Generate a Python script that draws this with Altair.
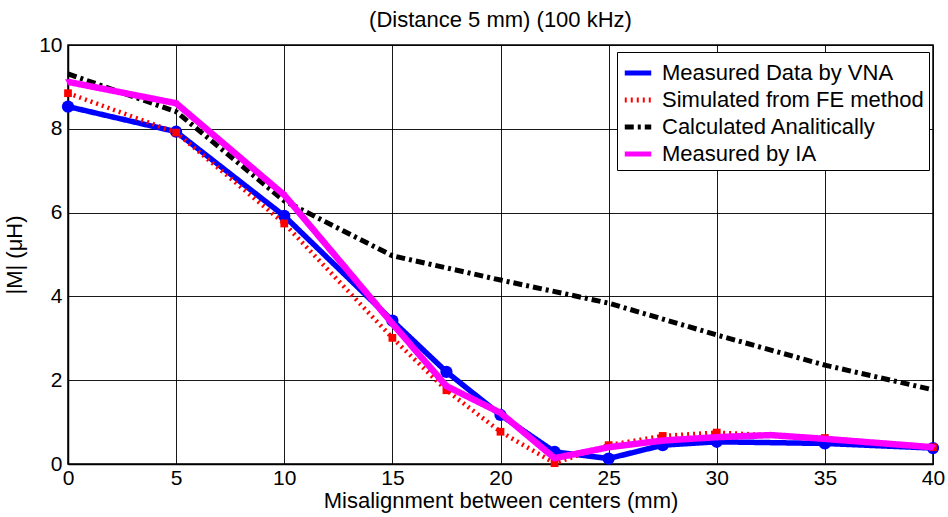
import altair as alt
import pandas as pd

# ---- data ----
series_names = ["Measured Data by VNA", "Simulated from FE method",
                "Calculated Analitically", "Measured by IA"]

x_vna = [0, 5, 10, 15, 17.5, 20, 22.5, 25, 27.5, 30, 35, 40]
y_vna = [8.53, 7.93, 5.92, 3.42, 2.2, 1.17, 0.29, 0.13, 0.45, 0.53, 0.49, 0.38]

x_fe = [0, 5, 10, 15, 17.5, 20, 22.5, 25, 27.5, 30, 35, 40]
y_fe = [8.85, 7.91, 5.74, 3.01, 1.76, 0.77, 0.02, 0.45, 0.67, 0.75, 0.62, 0.4]

x_an = [0, 5, 10, 15, 20, 25, 30, 35, 40]
y_an = [9.31, 8.41, 6.28, 4.97, 4.39, 3.84, 3.08, 2.36, 1.77]

x_ia = [0, 5, 10, 15, 17.5, 20, 22.5, 25, 27.5, 30, 32.5, 35, 40]
y_ia = [9.12, 8.61, 6.42, 3.35, 1.86, 1.22, 0.14, 0.4, 0.56, 0.64, 0.69, 0.6, 0.4]

x_ticks = [0, 5, 10, 15, 20, 25, 30, 35, 40]
y_ticks = [0, 2, 4, 6, 8, 10]

FONT = "Liberation Sans"

def frame(xs, ys, name):
    return pd.DataFrame({"x": xs, "y": ys, "series": name})

df_vna = frame(x_vna, y_vna, series_names[0])
df_fe = frame(x_fe, y_fe, series_names[1])
df_an = frame(x_an, y_an, series_names[2])
df_ia = frame(x_ia, y_ia, series_names[3])

colors = ["#0000ff", "#ff0000", "#000000", "#ff00ff"]
dashes = [[1, 0], [2, 4], [9, 4, 3, 4], [1, 0]]
widths = [5.5, 4.5, 5, 6.5]

xs = alt.X("x:Q", scale=alt.Scale(domain=[0, 40], nice=False),
           axis=alt.Axis(values=x_ticks, title="Misalignment between centers (mm)",
                         grid=True, gridColor="#000000", gridOpacity=0.9,
                         ticks=False, labelPadding=3, titlePadding=2,
                         labelFlush=False))
ys = alt.Y("y:Q", scale=alt.Scale(domain=[0, 10], nice=False),
           axis=alt.Axis(values=y_ticks, title="|M| (μH)",
                         grid=True, gridColor="#000000", gridOpacity=0.9,
                         ticks=False, labelPadding=6, titlePadding=12))

color_enc = alt.Color("series:N", scale=alt.Scale(domain=series_names, range=colors),
                      legend=alt.Legend(orient="none", legendX=549, legendY=7,
                                        title=None, strokeColor="#000000",
                                        fillColor="#ffffff", padding=5,
                                        labelFont=FONT, labelFontSize=22,
                                        labelColor="#000000", labelLimit=400,
                                        symbolType="stroke", symbolSize=700,
                                        rowPadding=0, labelOffset=8,
                                        symbolStrokeWidth=5))
dash_enc = alt.StrokeDash("series:N", scale=alt.Scale(domain=series_names, range=dashes))


def line_layer(df, w):
    return alt.Chart(df).mark_line(strokeWidth=w).encode(
        x=xs, y=ys, color=color_enc, strokeDash=dash_enc)


def point_layer(df, color, shape, size):
    return alt.Chart(df).mark_point(filled=True, shape=shape, size=size,
                                    color=color, opacity=1).encode(x=xs, y=ys)

layers = [
    line_layer(df_vna, widths[0]), point_layer(df_vna, colors[0], "circle", 150),
    line_layer(df_fe, widths[1]), point_layer(df_fe, colors[1], "square", 60),
    line_layer(df_an, widths[2]),
    line_layer(df_ia, widths[3]), point_layer(df_ia, colors[3], "triangle-down", 35),
]

chart = alt.layer(*layers).properties(
    width=865, height=419,
    background="#ffffff",
    title=alt.TitleParams("(Distance 5 mm) (100 kHz)", font=FONT, fontSize=22,
                          fontWeight="normal", color="#000000", offset=2),
    padding={"left": 68, "top": 45, "right": 15, "bottom": 53},
    autosize=alt.AutoSizeParams(type="none"),
).configure_view(stroke="#000000", strokeWidth=1.5).configure_axis(
    labelFont=FONT, labelFontSize=21, labelColor="#000000",
    titleFont=FONT, titleFontSize=22, titleFontWeight="normal", titleColor="#000000",
    domainColor="#000000", domainWidth=1.5, gridWidth=1,
)

chart.save("out.html", embed_options={"renderer": "svg", "actions": False})
